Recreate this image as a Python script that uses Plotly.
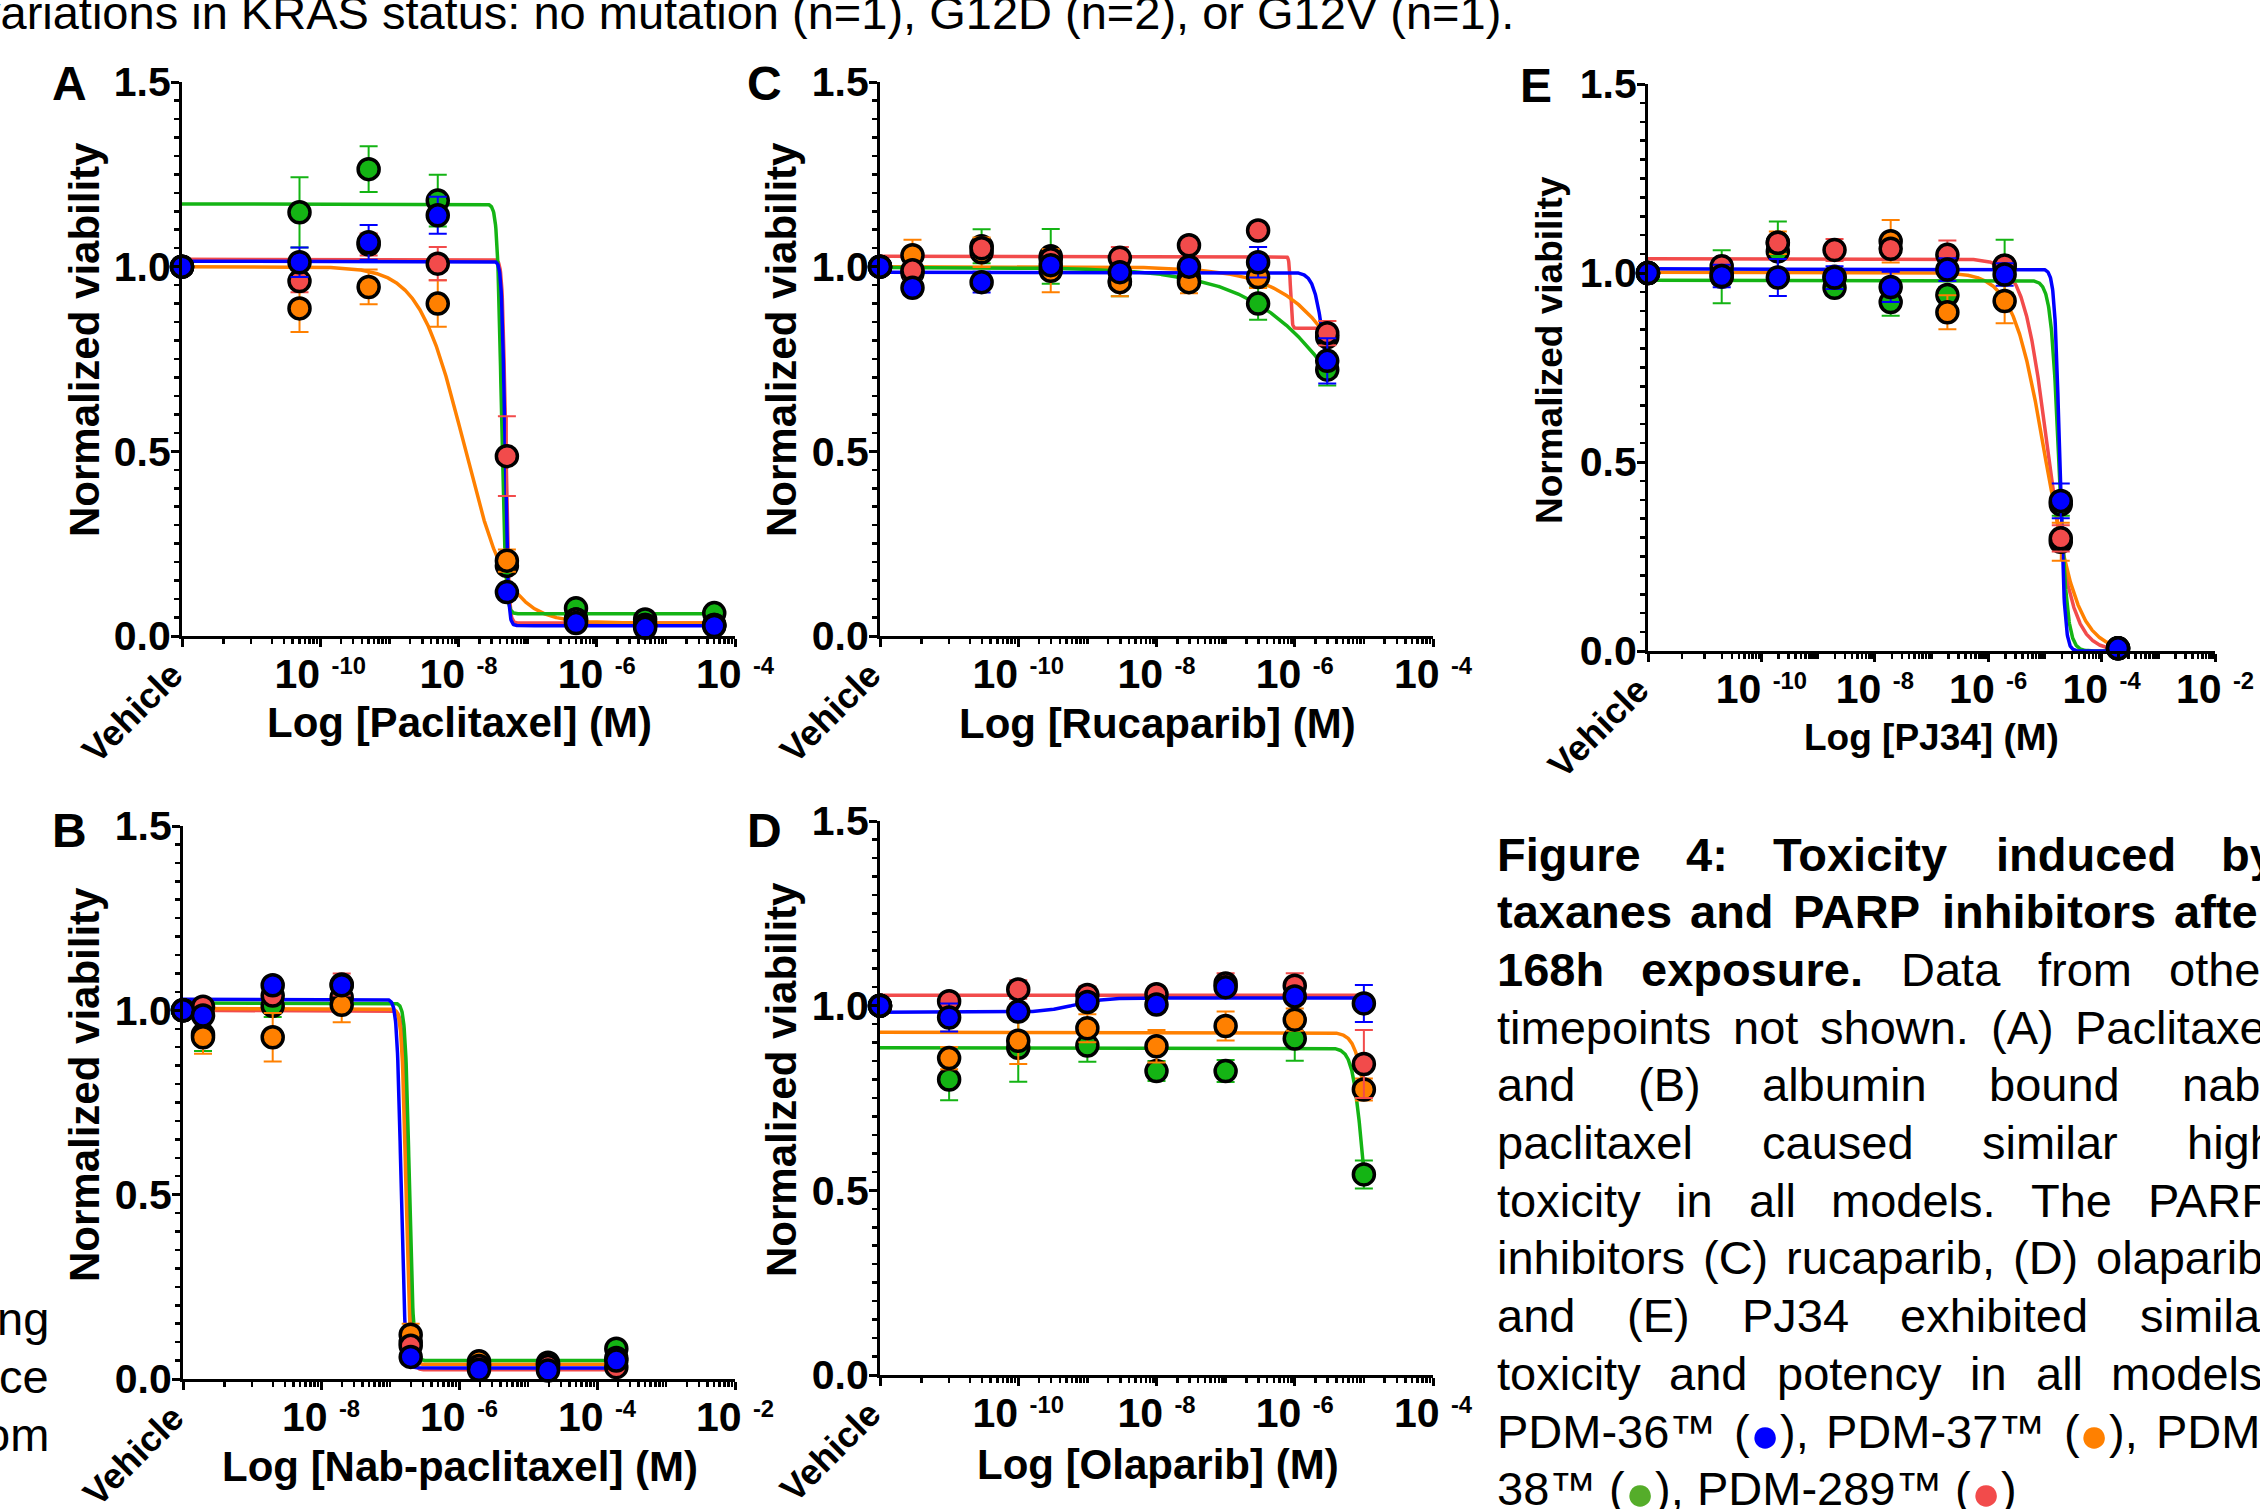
import numpy as np
import plotly.graph_objects as go

W, H = 2260, 1509
FONT = "Liberation Sans, Arial, Helvetica, sans-serif"

BLUE, ORANGE, GREEN, RED = "#0000FF", "#FF8000", "#14B414", "#F24B4B"
DOT_GREEN = "#55AD2A"
COLORS = {"blue": BLUE, "orange": ORANGE, "green": GREEN, "red": RED}

# ---------------- Panel A : Paclitaxel ----------------
A_logc = [-12, -10.3, -9.3, -8.3, -7.3, -6.3, -5.3, -4.3]
A_blue = [1.0, 1.012, 1.066, 1.139, 0.119, 0.035, 0.022, 0.027]
A_orange = [1.0, 0.887, 0.945, 0.900, 0.204, 0.045, 0.030, 0.030]
A_green = [1.0, 1.147, 1.264, 1.179, 0.190, 0.075, 0.045, 0.062]
A_red = [1.0, 0.961, 1.060, 1.008, 0.487, 0.045, 0.030, 0.030]
A_blue_err = [0, 0.04, 0.047, 0.05, 0.02, 0.01, 0.01, 0.01]
A_orange_err = [0, 0.064, 0.047, 0.063, 0.03, 0.01, 0.01, 0.01]
A_green_err = [0, 0.095, 0.062, 0.07, 0.02, 0.01, 0.01, 0.01]
A_red_err = [0, 0.03, 0.03, 0.045, 0.108, 0.01, 0.01, 0.01]
# fitted curve parameters: [value at low dose, value at high dose, logIC50, hill]
A_fit_blue = [1.015, 0.028, -7.33, 20]
A_fit_orange = [1.0, 0.035, -7.92, 1.35]
A_fit_green = [1.17, 0.06, -7.38, 15]
A_fit_red = [1.02, 0.035, -7.32, 20]

# ---------------- Panel B : Nab-paclitaxel ----------------
B_logc = [-10, -9.71, -8.70, -7.70, -6.70, -5.71, -4.71, -3.72]
B_blue = [1.0, 0.986, 1.068, 1.068, 0.060, 0.025, 0.023, 0.050]
B_orange = [1.0, 0.927, 0.927, 1.015, 0.120, 0.048, 0.044, 0.057]
B_green = [1.0, 0.935, 1.012, 1.035, 0.100, 0.040, 0.040, 0.082]
B_red = [1.0, 1.010, 1.040, 1.070, 0.090, 0.035, 0.035, 0.032]
B_blue_err = [0, 0.02, 0.02, 0.02, 0.02, 0.01, 0.01, 0.01]
B_orange_err = [0, 0.045, 0.066, 0.047, 0.03, 0.01, 0.01, 0.01]
B_green_err = [0, 0.045, 0.03, 0.02, 0.02, 0.01, 0.01, 0.01]
B_red_err = [0, 0.02, 0.02, 0.03, 0.02, 0.01, 0.01, 0.01]
B_fit_blue = [1.03, 0.03, -6.84, 15]
B_fit_orange = [1.005, 0.04, -6.77, 15]
B_fit_green = [1.02, 0.05, -6.72, 15]
B_fit_red = [1.0, 0.025, -6.75, 15]

# ---------------- Panel C : Rucaparib ----------------
C_logc = [-12, -11.53, -10.53, -9.53, -8.53, -7.53, -6.53, -5.53]
C_blue = [1.0, 0.943, 0.958, 1.004, 0.985, 1.000, 1.012, 0.745]
C_orange = [1.0, 1.031, 1.039, 0.989, 0.958, 0.958, 0.972, 0.809]
C_green = [1.0, 0.983, 1.055, 1.028, 0.960, 0.968, 0.900, 0.721]
C_red = [1.0, 0.990, 1.050, 1.020, 1.024, 1.058, 1.098, 0.820]
C_blue_err = [0, 0.02, 0.028, 0.02, 0.02, 0.02, 0.041, 0.061]
C_orange_err = [0, 0.042, 0.04, 0.058, 0.038, 0.03, 0.03, 0.044]
C_green_err = [0, 0.04, 0.046, 0.074, 0.04, 0.03, 0.044, 0.043]
C_red_err = [0, 0.02, 0.02, 0.02, 0.029, 0.02, 0.02, 0.033]
C_fit_blue = [0.985, 0.60, -5.58, 6]
C_fit_orange = [1.0, 0.0, -4.69, 0.75]
C_fit_green = [0.998, 0.0, -4.78, 0.544]
C_fit_red = [1.028, 0.833, -6.06, 40]

# ---------------- Panel D : Olaparib ----------------
D_logc = [-12, -11, -10, -9, -8, -7, -6, -5]
D_blue = [1.0, 0.968, 0.984, 1.010, 1.003, 1.050, 1.025, 1.006]
D_orange = [1.0, 0.858, 0.905, 0.939, 0.890, 0.945, 0.962, 0.773]
D_green = [1.0, 0.800, 0.886, 0.892, 0.823, 0.823, 0.911, 0.543]
D_red = [1.0, 1.012, 1.044, 1.029, 1.031, 1.060, 1.054, 0.842]
D_blue_err = [0, 0.038, 0.02, 0.02, 0.02, 0.02, 0.02, 0.05]
D_orange_err = [0, 0.03, 0.063, 0.038, 0.044, 0.039, 0.03, 0.03]
D_green_err = [0, 0.056, 0.092, 0.044, 0.027, 0.03, 0.06, 0.038]
D_red_err = [0, 0.02, 0.025, 0.023, 0.02, 0.028, 0.034, 0.092]
D_fit_blue = [0.982, 1.021, -9.2, 2]
D_fit_orange = [0.928, 0.5, -4.95, 5]
D_fit_green = [0.886, 0.3, -5.02, 6]
D_fit_red = [1.028, 1.028, -5.0, 1]

# ---------------- Panel E : PJ34 ----------------
E_logc = [-12, -10.70, -9.71, -8.71, -7.72, -6.72, -5.71, -4.72, -3.71]
E_blue = [1.0, 0.992, 0.988, 0.988, 0.963, 1.009, 0.996, 0.397, 0.007]
E_orange = [1.0, 1.000, 1.080, 0.990, 1.084, 0.896, 0.926, 0.289, 0.007]
E_green = [1.0, 0.990, 1.057, 0.961, 0.923, 0.942, 1.018, 0.388, 0.007]
E_red = [1.0, 1.018, 1.080, 1.061, 1.064, 1.048, 1.020, 0.298, 0.007]
E_blue_err = [0, 0.03, 0.049, 0.03, 0.04, 0.03, 0.03, 0.046, 0.005]
E_orange_err = [0, 0.02, 0.03, 0.02, 0.056, 0.045, 0.059, 0.05, 0.005]
E_green_err = [0, 0.07, 0.079, 0.02, 0.036, 0.02, 0.07, 0.03, 0.005]
E_red_err = [0, 0.02, 0.02, 0.029, 0.02, 0.038, 0.02, 0.035, 0.005]
E_fit_blue = [1.011, 0.0, -4.74, 10]
E_fit_orange = [1.002, 0.0, -4.98, 1.52]
E_fit_green = [0.981, 0.0, -4.75, 6]
E_fit_red = [1.038, 0.0, -4.94, 2.0]

Y_TICKS = [0.0, 0.5, 1.0, 1.5]
Y_TICK_TEXT = ["0.0", "0.5", "1.0", "1.5"]

TOP_TEXT = "variations in KRAS status: no mutation (n=1), G12D (n=2), or G12V (n=1)."
LEFT_FRAGMENTS = ["ng", "ce", "om"]

CAPTION = [
    [("Figure", 1), ("4:", 1), ("Toxicity", 1), ("induced", 1), ("by", 1)],
    [("taxanes", 1), ("and", 1), ("PARP", 1), ("inhibitors", 1), ("after", 1)],
    [("168h", 1), ("exposure.", 1), ("Data", 0), ("from", 0), ("other", 0)],
    [("timepoints", 0), ("not", 0), ("shown.", 0), ("(A)", 0), ("Paclitaxel", 0)],
    [("and", 0), ("(B)", 0), ("albumin", 0), ("bound", 0), ("nab-", 0)],
    [("paclitaxel", 0), ("caused", 0), ("similar", 0), ("high", 0)],
    [("toxicity", 0), ("in", 0), ("all", 0), ("models.", 0), ("The", 0), ("PARP", 0)],
    [("inhibitors", 0), ("(C)", 0), ("rucaparib,", 0), ("(D)", 0), ("olaparib,", 0)],
    [("and", 0), ("(E)", 0), ("PJ34", 0), ("exhibited", 0), ("similar", 0)],
    [("toxicity", 0), ("and", 0), ("potency", 0), ("in", 0), ("all", 0), ("models.", 0)],
    [("PDM-36™", 0), ("(●),", 0, BLUE), ("PDM-37™", 0), ("(●),", 0, ORANGE), ("PDM-", 0)],
    [("38™", 0), ("(●),", 0, DOT_GREEN), ("PDM-289™", 0), ("(●)", 0, RED)],
]


def pl4(x, p):
    left, right, c, h = p
    e = np.clip((x - c) * h, -300, 300)
    return right + (left - right) / (1 + np.power(10.0, e))


def pack(logc, b, o, g, r, be, oe, ge, re_, fb, fo, fg, fr):
    return dict(logc=logc,
                vals={"blue": b, "orange": o, "green": g, "red": r},
                errs={"blue": be, "orange": oe, "green": ge, "red": re_},
                fits={"blue": fb, "orange": fo, "green": fg, "red": fr})


panels = [
    dict(pack(A_logc, A_blue, A_orange, A_green, A_red, A_blue_err, A_orange_err, A_green_err, A_red_err,
              A_fit_blue, A_fit_orange, A_fit_green, A_fit_red),
         letter="A", xr=(-12, -4), majors=[-10, -8, -6, -4], box=(182, 735, 82, 636),
         xtitle="Log [Paclitaxel] (M)", xt_pos=(459, 722), yt_pos=(84, 340), l_pos=(69, 83), tsize=42),
    dict(pack(C_logc, C_blue, C_orange, C_green, C_red, C_blue_err, C_orange_err, C_green_err, C_red_err,
              C_fit_blue, C_fit_orange, C_fit_green, C_fit_red),
         letter="C", xr=(-12, -4), majors=[-10, -8, -6, -4], box=(880, 1433, 82, 636),
         xtitle="Log [Rucaparib] (M)", xt_pos=(1157, 723), yt_pos=(781, 340), l_pos=(764, 83), tsize=42),
    dict(pack(E_logc, E_blue, E_orange, E_green, E_red, E_blue_err, E_orange_err, E_green_err, E_red_err,
              E_fit_blue, E_fit_orange, E_fit_green, E_fit_red),
         letter="E", xr=(-12, -2), majors=[-10, -8, -6, -4, -2], box=(1648, 2215, 84, 651),
         xtitle="Log [PJ34] (M)", xt_pos=(1931, 737), yt_pos=(1550, 350), l_pos=(1536, 86), tsize=37),
    dict(pack(B_logc, B_blue, B_orange, B_green, B_red, B_blue_err, B_orange_err, B_green_err, B_red_err,
              B_fit_blue, B_fit_orange, B_fit_green, B_fit_red),
         letter="B", xr=(-10, -2), majors=[-8, -6, -4, -2], box=(183, 735, 826, 1379),
         xtitle="Log [Nab-paclitaxel] (M)", xt_pos=(460, 1466), yt_pos=(84, 1085), l_pos=(69, 830), tsize=42),
    dict(pack(D_logc, D_blue, D_orange, D_green, D_red, D_blue_err, D_orange_err, D_green_err, D_red_err,
              D_fit_blue, D_fit_orange, D_fit_green, D_fit_red),
         letter="D", xr=(-12, -4), majors=[-10, -8, -6, -4], box=(880, 1433, 821, 1375),
         xtitle="Log [Olaparib] (M)", xt_pos=(1158, 1464), yt_pos=(781, 1080), l_pos=(764, 830), tsize=42),
]

fig = go.Figure()
annotations = []
TICK_FONT = dict(family=FONT, size=41, color="black", weight="bold")


def ann(px, py, text, size, bold=True, angle=0, xanchor="center", yanchor="middle", color="black"):
    return dict(x=px / W, y=1 - py / H, xref="paper", yref="paper", text=text, showarrow=False,
                font=dict(family=FONT, size=size, color=color, weight="bold" if bold else "normal"),
                textangle=angle, xanchor=xanchor, yanchor=yanchor)


for i, p in enumerate(panels):
    n = "" if i == 0 else str(i + 1)
    xa, ya = "x" + n, "y" + n
    lo, hi = p["xr"]
    x0, x1, ytop, ybot = p["box"]

    minor_x = [lo + np.log10(4)]
    for dec in range(lo + 1, hi):
        for k in range(1, 10):
            if k == 1 and dec in p["majors"]:
                continue
            minor_x.append(dec + np.log10(k))
    minor_y = [round(0.05 * j, 2) for j in range(31) if j % 10 != 0]

    fig.layout["xaxis" + n] = dict(
        domain=[x0 / W, x1 / W], anchor=ya, range=[lo, hi], showgrid=False, zeroline=False,
        automargin=False, ticklabelstandoff=-8,
        showline=True, linewidth=3, linecolor="black", ticks="outside", ticklen=8, tickwidth=3,
        tickcolor="black", tickmode="array", tickvals=[lo] + p["majors"],
        ticktext=[""] + ["10 <span style='font-size:34px'><sup>%d</sup></span>" % m for m in p["majors"]],
        tickfont=TICK_FONT,
        minor=dict(tickmode="array", tickvals=minor_x, ticks="outside", ticklen=5, tickwidth=2.5,
                   tickcolor="black", showgrid=False),
        fixedrange=True)
    fig.layout["yaxis" + n] = dict(
        domain=[1 - ybot / H, 1 - ytop / H], anchor=xa, range=[0, 1.5], showgrid=False, zeroline=False,
        automargin=False, ticklabelstandoff=-8,
        showline=True, linewidth=3, linecolor="black", ticks="outside", ticklen=8, tickwidth=3,
        tickcolor="black", tickmode="array", tickvals=Y_TICKS, ticktext=Y_TICK_TEXT, tickfont=TICK_FONT,
        minor=dict(tickmode="array", tickvals=minor_y, ticks="outside", ticklen=5, tickwidth=2.5,
                   tickcolor="black", showgrid=False),
        fixedrange=True)

    xs = np.linspace(lo, p["logc"][-1], 1500)
    for s in ["red", "orange", "green", "blue"]:
        fig.add_trace(go.Scatter(x=xs, y=pl4(xs, p["fits"][s]), mode="lines",
                                 line=dict(color=COLORS[s], width=3.5), xaxis=xa, yaxis=ya,
                                 hoverinfo="skip", showlegend=False))
    for s in ["green", "orange", "red", "blue"]:
        fig.add_trace(go.Scatter(x=p["logc"], y=p["vals"][s], mode="markers", cliponaxis=False,
                                 marker=dict(size=21, color=COLORS[s], line=dict(color="black", width=3.5)),
                                 error_y=dict(type="data", array=p["errs"][s], color=COLORS[s],
                                              thickness=2, width=9),
                                 xaxis=xa, yaxis=ya, showlegend=False))

    # labels
    annotations.append(ann(*p["l_pos"], p["letter"], 48))
    annotations.append(ann(*p["xt_pos"], p["xtitle"], p["tsize"]))
    annotations.append(ann(*p["yt_pos"], "Normalized viability", p["tsize"], angle=-90))
    annotations.append(dict(x=lo, y=0, xref=xa, yref=ya, text="Vehicle", showarrow=False, textangle=-45,
                            xanchor="right", yanchor="top", xshift=11, yshift=-15,
                            font=dict(family=FONT, size=36, color="black", weight="bold")))

# ---------------- text outside the charts ----------------
annotations.append(ann(-25.5, 13, TOP_TEXT, 47, bold=False, xanchor="left"))
for j, frag in enumerate(LEFT_FRAGMENTS):
    annotations.append(ann(51, 1318 + 58 * j, frag, 47, bold=False, xanchor="right"))

REG = dict(zip("abcdefghijklmnopqrstuvwxyz",
               [556, 556, 500, 556, 556, 278, 556, 556, 222, 222, 500, 222, 833, 556, 556, 556, 556, 333, 500,
                278, 556, 500, 722, 500, 500, 500]))
REG.update(zip("ABCDEFGHIJKLMNOPQRSTUVWXYZ",
               [667, 667, 722, 722, 667, 611, 778, 722, 278, 500, 667, 556, 833, 722, 778, 667, 778, 722, 667,
                611, 722, 667, 944, 667, 667, 611]))
REG.update({c: 556 for c in "0123456789"})
REG.update({" ": 278, ".": 278, ",": 278, ":": 278, "(": 333, ")": 333, "-": 333, "™": 1000})
BLD = dict(zip("abcdefghijklmnopqrstuvwxyz",
               [556, 611, 556, 611, 556, 333, 611, 611, 278, 278, 556, 278, 889, 611, 611, 611, 611, 389, 556,
                333, 611, 556, 778, 556, 556, 500]))
BLD.update(zip("ABCDEFGHIJKLMNOPQRSTUVWXYZ",
               [722, 722, 722, 722, 667, 611, 778, 722, 278, 556, 722, 611, 833, 722, 778, 667, 778, 722, 667,
                611, 722, 667, 944, 667, 667, 611]))
BLD.update({c: 556 for c in "0123456789"})
BLD.update({" ": 278, ".": 278, ",": 278, ":": 333, "(": 333, ")": 333, "-": 333, "™": 1000})

CAP_SIZE, DOT_SIZE, DOT_ADV = 47, 50, 30
XL, XR = 1497, 2276
Y0, DY = 854, 57.7


def word_width(txt, bold):
    tab = BLD if bold else REG
    w = 0.0
    for ch in txt:
        if ch == "●":
            w += DOT_ADV
        else:
            w += tab.get(ch, 556) * CAP_SIZE / 1000
    return w


for li, line in enumerate(CAPTION):
    widths = [word_width(wd[0], wd[1]) for wd in line]
    if li < len(CAPTION) - 1:
        gap = (XR - XL - sum(widths)) / (len(line) - 1)
    else:
        gap = 278 * CAP_SIZE / 1000
    x = XL
    y = Y0 + DY * li
    for wd, w in zip(line, widths):
        txt = wd[0]
        if len(wd) > 2:
            pre, post = txt.split("●")
            annotations.append(ann(x - 2, y, pre, CAP_SIZE, bold=False, xanchor="left"))
            xd = x + word_width(pre, False)
            annotations.append(ann(xd + DOT_ADV / 2, y + 4, "●", DOT_SIZE, bold=False, color=wd[2]))
            annotations.append(ann(xd + DOT_ADV - 2, y, post, CAP_SIZE, bold=False, xanchor="left"))
        else:
            annotations.append(ann(x - 2, y, txt, CAP_SIZE, bold=bool(wd[1]), xanchor="left"))
        x += w + gap

fig.update_layout(width=W, height=H, margin=dict(l=0, r=0, t=0, b=0, autoexpand=False),
                  paper_bgcolor="white",
                  plot_bgcolor="white", showlegend=False, annotations=annotations, hovermode=False,
                  font=dict(family=FONT, color="black"))

fig.write_html("out.html", config={"displayModeBar": False, "staticPlot": True},
               post_script="document.body.style.margin='0px';document.body.style.overflow='hidden';")
